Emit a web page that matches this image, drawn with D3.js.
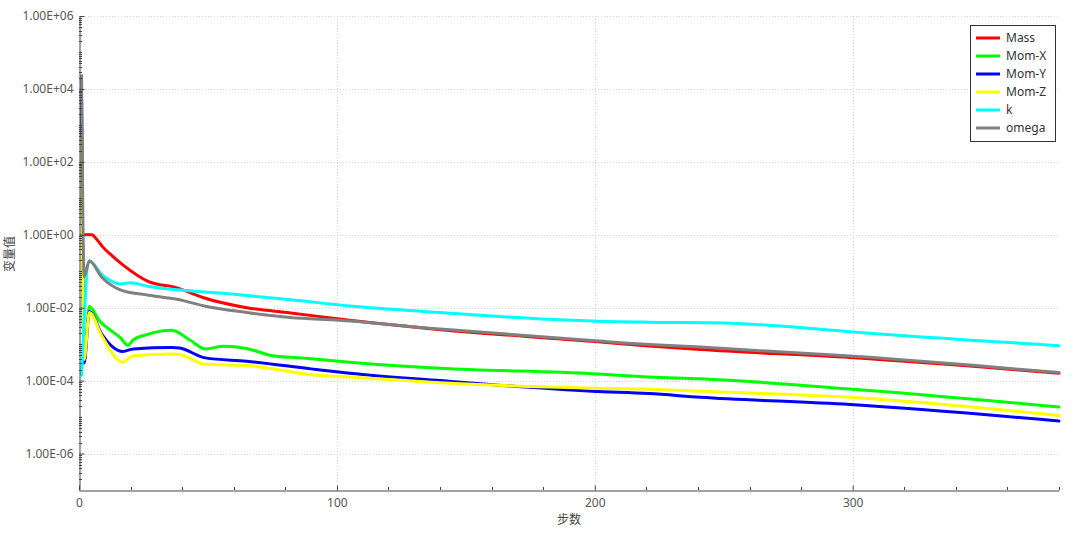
<!DOCTYPE html>
<html>
<head>
<meta charset="utf-8">
<script src="https://cdn.jsdelivr.net/npm/d3@7"></script>
<style>
  html, body { margin: 0; padding: 0; background: #ffffff; }
  svg { display: block; }
  text { font-family: "Noto Sans", "Noto Sans CJK SC", sans-serif; }
</style>
</head>
<body>
<svg id="chart" width="1080" height="534"></svg>
<script>
// ---- data ----
const seriesNames = ["Mass", "Mom-X", "Mom-Y", "Mom-Z", "k", "omega"];
const seriesColors = ["#ff0000", "#00ff00", "#0000ff", "#ffff00", "#00ffff", "#808080"];

const massSteps = [1, 5, 7, 9, 13, 17, 27, 38, 48, 65, 82, 105, 140, 199, 221, 241, 299, 380];
const massValues = [1.0, 1.0, 0.73, 0.48, 0.26, 0.15, 0.052, 0.035, 0.019, 0.010, 7.2e-3, 4.5e-3, 2.5e-3, 1.2e-3, 8.9e-4, 7.1e-4, 4.3e-4, 1.6e-4];

const momXSteps = [1, 2, 4, 8, 13, 16, 19, 21, 26, 36, 43, 49, 56, 65, 75, 90, 105, 140, 199, 221, 241, 299, 380];
const momXValues = [2e3, 3.5e-4, 0.0107, 4.3e-3, 2.2e-3, 1.5e-3, 9.3e-4, 1.3e-3, 1.8e-3, 2.4e-3, 1.3e-3, 7.4e-4, 8.7e-4, 7.6e-4, 4.8e-4, 4.0e-4, 3.2e-4, 2.2e-4, 1.55e-4, 1.26e-4, 1.12e-4, 5.9e-5, 1.9e-5];

const momYSteps = [1, 2, 4, 9, 17, 21, 36, 39, 49, 65, 90, 105, 140, 199, 221, 241, 299, 380];
const momYValues = [5e3, 3e-4, 7.9e-3, 1.8e-3, 6.3e-4, 7.4e-4, 8.1e-4, 7.8e-4, 4.2e-4, 3.4e-4, 2.1e-4, 1.6e-4, 1.0e-4, 5.1e-5, 4.4e-5, 3.5e-5, 2.2e-5, 7.8e-6];

const momZSteps = [1, 2, 4, 9, 17, 21, 36, 39, 49, 65, 90, 105, 140, 199, 221, 241, 299, 380];
const momZValues = [450, 3.8e-4, 7.4e-3, 1.6e-3, 3.2e-4, 4.8e-4, 5.4e-4, 5.2e-4, 2.8e-4, 2.6e-4, 1.45e-4, 1.26e-4, 8.7e-5, 6.2e-5, 5.8e-5, 5.1e-5, 3.5e-5, 1.1e-5];

const kSteps = [1, 4, 9, 16, 20, 27, 38, 61, 82, 105, 140, 179, 199, 221, 250, 273, 299, 380];
const kValues = [1.4e-4, 0.19, 0.079, 0.045, 0.048, 0.038, 0.031, 0.023, 0.0166, 0.0112, 7.4e-3, 4.9e-3, 4.3e-3, 4.0e-3, 3.8e-3, 3.1e-3, 2.2e-3, 9.1e-4];

const omegaSteps = [1, 2, 4, 9, 16, 27, 38, 49, 65, 82, 101, 140, 199, 221, 241, 299, 380];
const omegaValues = [2.3e4, 0.071, 0.19, 0.066, 0.031, 0.022, 0.017, 0.011, 7.4e-3, 5.4e-3, 4.5e-3, 2.6e-3, 1.26e-3, 9.8e-4, 8.3e-4, 4.7e-4, 1.66e-4];

const xTickValues = [0, 100, 200, 300];
const yTickValues = [1e6, 1e4, 1e2, 1e0, 1e-2, 1e-4, 1e-6];
const yTickLabels = ["1.00E+06", "1.00E+04", "1.00E+02", "1.00E+00", "1.00E-02", "1.00E-04", "1.00E-06"];
const xAxisTitle = "步数";
const yAxisTitle = "变量值";

// ---- build ----
const stepsList = [massSteps, momXSteps, momYSteps, momZSteps, kSteps, omegaSteps];
const valuesList = [massValues, momXValues, momYValues, momZValues, kValues, omegaValues];
const series = seriesNames.map((name, i) => ({
  name, color: seriesColors[i],
  points: stepsList[i].map((s, j) => ({ x: s, y: valuesList[i][j] }))
}));

const svg = d3.select("#chart");
const pLeft = 79, pRight = 1059, pTop = 16, pBottom = 490;
const x = d3.scaleLinear().domain([0, 380]).range([pLeft, pRight]);
const y = d3.scaleLog().domain([1e-7, 1e6]).range([pBottom, pTop]);

// grid
const grid = svg.append("g");
grid.selectAll("line.gy").data(yTickValues).join("line")
  .attr("x1", pLeft).attr("x2", pRight)
  .attr("y1", d => Math.round(y(d)) + 0.5).attr("y2", d => Math.round(y(d)) + 0.5)
  .attr("stroke", "#d6d6d6").attr("stroke-width", 1).attr("stroke-dasharray", "1,2");
grid.selectAll("line.gx").data(xTickValues.filter(d => d > 0)).join("line")
  .attr("x1", d => Math.round(x(d)) + 0.5).attr("x2", d => Math.round(x(d)) + 0.5)
  .attr("y1", pTop).attr("y2", pBottom)
  .attr("stroke", "#d6d6d6").attr("stroke-width", 1).attr("stroke-dasharray", "1,2");

// lines
const line = d3.line().x(d => x(d.x)).y(d => y(d.y)).curve(d3.curveMonotoneX);
const lineG = svg.append("g");
series.forEach(s => {
  lineG.append("path").datum(s.points)
    .attr("d", line).attr("fill", "none")
    .attr("stroke", s.color).attr("stroke-width", 3)
    .attr("stroke-linejoin", "round").attr("stroke-linecap", "round");
});

// x axis (ticks pointing up)
const xMinor = d3.range(0, 381, 20).filter(d => d % 100 !== 0);
const xAxis = svg.append("g").attr("transform", `translate(0,${pBottom + 0.5})`)
  .call(d3.axisBottom(x).tickValues(xTickValues).tickSizeInner(-5).tickSizeOuter(0).tickPadding(8).tickFormat(d3.format("d")));
xAxis.select(".domain").attr("stroke", "#444");
xAxis.selectAll(".tick line").attr("stroke", "#444");
xAxis.selectAll("text").attr("fill", "#555").attr("font-size", 12).attr("font-family", "Noto Sans");
svg.append("g").selectAll("line").data(xMinor).join("line")
  .attr("x1", d => Math.round(x(d)) + 0.5).attr("x2", d => Math.round(x(d)) + 0.5)
  .attr("y1", pBottom).attr("y2", pBottom - 3).attr("stroke", "#444");

// y axis (ticks pointing right)
const yAxis = svg.append("g").attr("transform", `translate(${pLeft + 0.5},0)`)
  .call(d3.axisLeft(y).tickValues(yTickValues).tickSizeInner(-5).tickSizeOuter(0).tickPadding(6)
    .tickFormat((d, i) => yTickLabels[i]));
yAxis.select(".domain").attr("stroke", "#444");
yAxis.selectAll(".tick line").attr("stroke", "#444");
yAxis.selectAll("text").attr("fill", "#555").attr("font-size", 12).attr("font-family", "Noto Sans");
const yMinor = [];
for (let k = -7; k < 6; k++) for (let m = 2; m <= 10; m++) {
  if (m === 10 && (k + 1) % 2 === 0) continue;
  yMinor.push(m * Math.pow(10, k));
}
svg.append("g").selectAll("line").data(yMinor).join("line")
  .attr("x1", pLeft).attr("x2", pLeft + 3)
  .attr("y1", d => Math.round(y(d)) + 0.5).attr("y2", d => Math.round(y(d)) + 0.5).attr("stroke", "#444");

// axis titles
svg.append("text").attr("x", 569).attr("y", 524)
  .attr("text-anchor", "middle").attr("font-size", 12).attr("fill", "#444")
  .attr("font-family", "Noto Sans CJK SC").text(xAxisTitle);
svg.append("text").attr("transform", "translate(14,254) rotate(-90)")
  .attr("text-anchor", "middle").attr("font-size", 12).attr("fill", "#444")
  .attr("font-family", "Noto Sans CJK SC").text(yAxisTitle);

// legend
const lg = svg.append("g");
lg.append("rect").attr("x", 970.5).attr("y", 25.5).attr("width", 85).attr("height", 116)
  .attr("fill", "#fff").attr("stroke", "#333").attr("stroke-width", 1);
series.forEach((s, i) => {
  const cy = 38 + i * 18;
  lg.append("line").attr("x1", 976).attr("x2", 1000).attr("y1", cy).attr("y2", cy)
    .attr("stroke", s.color).attr("stroke-width", 3);
  lg.append("text").attr("x", 1006).attr("y", cy + 4).attr("font-size", 12).attr("fill", "#333")
    .text(s.name);
});
</script>
</body>
</html>
